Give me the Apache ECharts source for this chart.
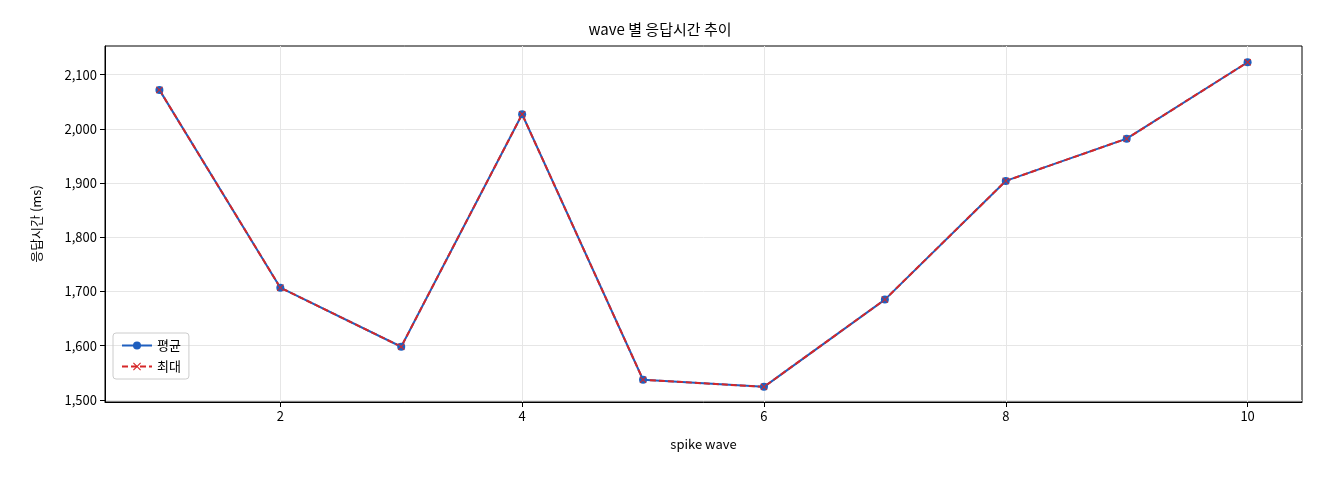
<!DOCTYPE html>
<html><head><meta charset="utf-8">
<script src="https://cdn.jsdelivr.net/npm/echarts@6/dist/echarts.min.js"></script>
<style>html,body{margin:0;padding:0;background:#fff}#c{width:1320px;height:480px}</style>
</head><body><div id="c"></div>
<script>
const waves = [1,2,3,4,5,6,7,8,9,10];
const avgValues = [2072,1707,1598,2027,1537,1524,1685,1904,1982,2123];
const maxValues = [2072,1707,1598,2027,1537,1524,1685,1904,1982,2123];
const xTicks = [2,4,6,8,10];
const yTicks = [1500,1600,1700,1800,1900,2000,2100];
const F = '"Noto Sans CJK KR","Noto Sans",sans-serif';
const XP = 'path://M0,1L1,0L5,4L9,0L10,1L6,5L10,9L9,10L5,6L1,10L0,9L4,5Z';
const chart = echarts.init(document.getElementById('c'));
const ax = (ticks)=>({
  axisLine:{show:true,lineStyle:{color:'#000'}},
  axisTick:{show:true,customValues:ticks,lineStyle:{color:'#000'}},
  axisLabel:{fontFamily:F,fontSize:13,color:'#000',customValues:ticks},
  splitLine:{show:true,lineStyle:{color:'#e6e6e6'}}
});
chart.setOption({
  animation:false,
  title:{text:'wave 별 응답시간 추이',left:'center',top:17,textStyle:{fontFamily:F,fontSize:15,fontWeight:'normal',color:'#000'}},
  grid:{left:105,right:18,top:46,bottom:78,show:true,borderColor:'#000',borderWidth:1},
  legend:{left:113,top:333,orient:'vertical',itemGap:8,itemWidth:30,itemHeight:10,
    borderColor:'#ccc',borderWidth:1,borderRadius:3,padding:[6,8],
    textStyle:{fontFamily:F,fontSize:13,color:'#000'},
    data:[{name:'평균'},{name:'최대'}]},
  xAxis:Object.assign({type:'value',min:0.55,max:10.45,name:'spike wave',nameLocation:'middle',nameGap:36,
    nameTextStyle:{fontFamily:F,fontSize:13,color:'#000'}},ax(xTicks)),
  yAxis:Object.assign({type:'value',min:1496,max:2153,name:'응답시간 (ms)',nameLocation:'middle',nameGap:62,
    nameTextStyle:{fontFamily:F,fontSize:13,color:'#000'}},ax(yTicks)),
  series:[
    {name:'평균',type:'line',data:waves.map((w,i)=>[w,avgValues[i]]),symbol:'circle',symbolSize:8,
     itemStyle:{color:'#1f5fbf'},lineStyle:{color:'#1f5fbf',width:2}},
    {name:'최대',type:'line',data:waves.map((w,i)=>[w,maxValues[i]]),symbol:XP,symbolSize:7,
     itemStyle:{color:'#d62728'},lineStyle:{color:'#d62728',width:2,type:[6,3]}}
  ]
});
</script></body></html>
